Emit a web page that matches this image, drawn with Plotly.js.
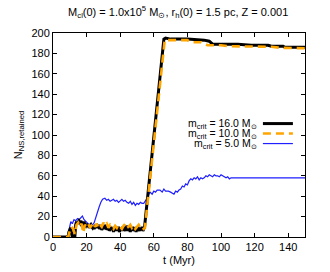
<!DOCTYPE html>
<html><head><meta charset="utf-8">
<script src="https://cdn.plot.ly/plotly-3.0.1.min.js"></script>
<style>html,body{margin:0;padding:0;background:#fff}#c{width:330px;height:272px}</style>
</head><body><div id="c"></div>
<script>
const t16 = [0,9,9.5,10,10.5,11,11.5,12,13,
  13.5,14,14.5,15,15.5,16,16.5,17,17.5,18,
  18.5,19,19.5,20,20.5,21,21.5,22,22.5,23,
  23.5,24,24.5,25,25.5,26,26.5,27,27.5,28,
  28.5,29,29.5,30,30.5,31,31.5,32,32.5,33,
  33.5,34,34.5,35,35.5,36,36.5,37,37.5,38,
  38.5,39,39.5,40,40.5,41,41.5,42,42.5,43,
  43.5,44,44.5,45,45.5,46,46.5,47,47.5,48,
  48.5,49,49.5,50,50.5,51,51.5,52,52.5,53,
  53.5,54,54.5,
  66,67,70,80,90,93,95,100,110,118,128,130,137,138,150];
const n16 = [0,0,5,8,9,4,0,0,0,
  12,15,13,14,16,15,13,14,12,13,
  15,12,11,13,10,12,9,11,12,10,
  9,11,8,10,12,9,11,10,12,8,
  10,7,9,11,8,10,12,7,9,11,
  6,8,10,7,9,5,8,10,6,9,
  7,10,5,8,9,6,10,7,8,6,
  9,11,6,8,10,5,9,7,10,6,
  8,9,5,10,7,8,6,9,7,10,
  6,8,10,
  194,195,194,194,193,192,189,189,189,188,188,187,187,186,186];
const t10 = [0,9,10,11,12,13,14,15,16,17,18,19,20,21,22,23,24,25,26,27,28,29,30,31,32,33,34,35,36,37,38,39,40,41,42,43,44,45,46,47,48,49,50,51,52,53,54,54.7,66.5,80,82,88,92,100,105,115,120,130,135,140,145,150];
const n10 = [0,0,6,10,8,3,12,14,10,13,4,12,10,13,9,12,14,10,13,9,12,10,14,11,13,9,12,10,8,11,9,12,10,8,11,13,9,10,12,9,11,8,10,12,9,10,8,9,193,193,191,191,188,188,187,187,186.5,186.5,185.5,185.5,185,185];
const t5 = [0,8,9,10,10.6,11.5,12.5,13.5,14.6,15.5,16.5,17.5,18.5,19.5,20.5,21.5,22.5,23.5,24.5,25.5,26.5,27.5,28.5,29.5,30.9,32,33,34,35,36,37,38,39,40,41,42,43,44,45,46,47,48,49,50,51,52,53,54,55,56,57.7,59,60,61,62,63.7,65,66,67,68.7,70,71,72,73,74,75,76,77,78,79,80,81,82,83,84,85,86,87,88,89,90,91,92,93,94,95,96,97,98,99,100,101,102,103,104,105,106,107,108,150];
const n5 = [0,0,3,10,15,13,17,16,18,17,19,20.6,17,15,14,12,13,11.8,14,20,25,29.7,34,37,38,36,37,35,36,37,35,36,34,36,37,35,36,34,33,35,32,34,31,33,32,34,33,33,35,38,44,42,45,44,46,46,44,47,45,45,44,43,42,45,44,46,47,50,49,52,51,55,57,56,58,57,59,56,58,57,58,60,59,61,60,59,61,60,60,59,61,60,59,58,59,57,58,58,58,58];

const traces = [
  {x:t5, y:n5, name:'m<sub>crit</sub> = 5.0 M<sub>⊙</sub>', mode:'lines', line:{color:'#1f1fff', width:1.2}},
  {x:t16, y:n16, name:'m<sub>crit</sub> = 16.0 M<sub>⊙</sub>', mode:'lines', line:{color:'#000000', width:3}},
  {x:t10, y:n10, name:'m<sub>crit</sub> = 10.0 M<sub>⊙</sub>', mode:'lines', line:{color:'#ffa500', width:2.6, dash:'8px,5px'}}
];
traces.forEach(t=>t.showlegend=false);

const fnt = {family:'Liberation Sans, Arial, sans-serif', size:11, color:'#000'};
const lfnt = {family:'Liberation Sans, Arial, sans-serif', size:10.5, color:'#000'};
const legNames = ['m<sub>crit</sub> = 16.0 M<sub>⊙</sub>','m<sub>crit</sub> = 10.0 M<sub>⊙</sub>','m<sub>crit</sub> = 5.0 M<sub>⊙</sub>'];
const legStyles = [{color:'#000',width:3},{color:'#ffa500',width:2.6,dash:'8px,5px'},{color:'#1f1fff',width:1.2}];
const legY = [0.556,0.507,0.458];
const annotations = legNames.map((s,i)=>({xref:'paper',yref:'paper',x:0.812,y:legY[i],xanchor:'right',yanchor:'middle',text:s,showarrow:false,font:lfnt,borderpad:0}));
const shapes = legStyles.map((ls,i)=>({type:'line',xref:'paper',yref:'paper',x0:0.833,x1:0.952,y0:legY[i],y1:legY[i],line:ls}));

const ax = {showgrid:false, zeroline:false, showline:true, linecolor:'#000', linewidth:1, mirror:'ticks', ticks:'inside', ticklen:4, tickcolor:'#000', tickfont:fnt};
const layout = {
  width:330, height:272,
  margin:{l:53, r:25, t:33, b:35},
  paper_bgcolor:'#fff', plot_bgcolor:'#fff',
  title:{text:'M<sub>cl</sub>(0) = 1.0x10<sup>5</sup> M<sub>⊙</sub>, r<sub>h</sub>(0) = 1.5 pc, Z = 0.001', font:fnt, x:0.54, xanchor:'center', y:0.955, yanchor:'middle'},
  xaxis:Object.assign({}, ax, {range:[0,150], dtick:20, tick0:0, title:{text:'t (Myr)', font:fnt, standoff:4}}),
  yaxis:Object.assign({}, ax, {range:[0,200], dtick:20, tick0:0, title:{text:'N<sub>NS,retained</sub>', font:fnt, standoff:6}}),
  annotations:annotations, shapes:shapes
};
Plotly.newPlot('c', traces, layout, {staticPlot:true});
</script></body></html>
